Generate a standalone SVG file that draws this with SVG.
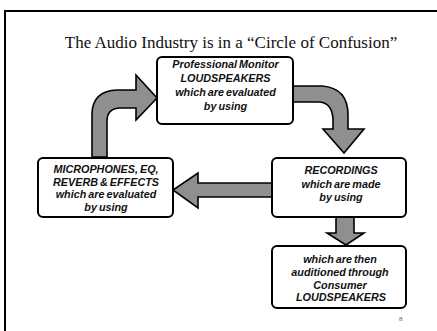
<svg xmlns="http://www.w3.org/2000/svg" width="437" height="331" viewBox="0 0 437 331">
<style>
.box{fill:#fff;stroke:#000;stroke-width:2}
.arr{fill:#8f8f8f;stroke:#000;stroke-width:1.6;stroke-linejoin:miter}
.t{font-family:"Liberation Sans",Arial,sans-serif;font-weight:bold;font-style:italic;font-size:10.8px;fill:#111;text-anchor:middle;word-spacing:-1px}
.title{font-family:"Liberation Serif","Times New Roman",serif;font-size:17px;fill:#111;text-anchor:middle}
</style>
<rect width="437" height="331" fill="#fff"/>
<path d="M5,331 L5,11 L437,11" fill="none" stroke="#000" stroke-width="2"/>
<text class="title" x="231" y="48">The Audio Industry is in a “Circle of Confusion”</text>
<g id="connectors">
<path class="arr" d="M92,157 L92,113 Q93,91 117,90 L136,90 L136,75 L157,98 L136,120 L136,108 L119,108 Q107,109 107,121 L107,157 Z"/>
<path class="arr" d="M293,86 L322,86 Q348,88 348,115 L348,129 L364,129 L344,153 L323,129 L333,129 L333,119 Q332,102 318,102 L293,102 Z"/>
<path class="arr" d="M272,183 L198,183 L198,173 L173,190 L198,208 L198,197 L272,197 Z"/>
<path class="arr" d="M336,217 L336,233 L327,233 L346,245 L364,233 L354,233 L354,217 Z"/>
</g>
<g id="node-monitor">
<rect class="box" x="157" y="57" width="136" height="67" rx="5"/>
<text class="t" x="225.5" y="68">Professional Monitor</text>
<text class="t" x="225.5" y="82">LOUDSPEAKERS</text>
<text class="t" x="225.5" y="96">which are evaluated</text>
<text class="t" x="225.5" y="110">by using</text>
</g>
<g id="node-microphones">
<rect class="box" x="38" y="158" width="135" height="59" rx="5"/>
<text class="t" x="106" y="173">MICROPHONES, EQ,</text>
<text class="t" x="106" y="185.5">REVERB &amp; EFFECTS</text>
<text class="t" x="106" y="198">which are evaluated</text>
<text class="t" x="106" y="210.5">by using</text>
</g>
<g id="node-recordings">
<rect class="box" x="272" y="158" width="134" height="59" rx="5"/>
<text class="t" x="341" y="174">RECORDINGS</text>
<text class="t" x="341" y="188">which are made</text>
<text class="t" x="341" y="201">by using</text>
</g>
<g id="node-consumer">
<rect class="box" x="272" y="246" width="134" height="62" rx="5"/>
<text class="t" x="340" y="263">which are then</text>
<text class="t" x="340" y="275.5">auditioned through</text>
<text class="t" x="340" y="289">Consumer</text>
<text class="t" x="341" y="301">LOUDSPEAKERS</text>
</g>
<text x="399" y="321" font-family="Liberation Serif,serif" font-size="7" fill="#555">8</text>
</svg>
